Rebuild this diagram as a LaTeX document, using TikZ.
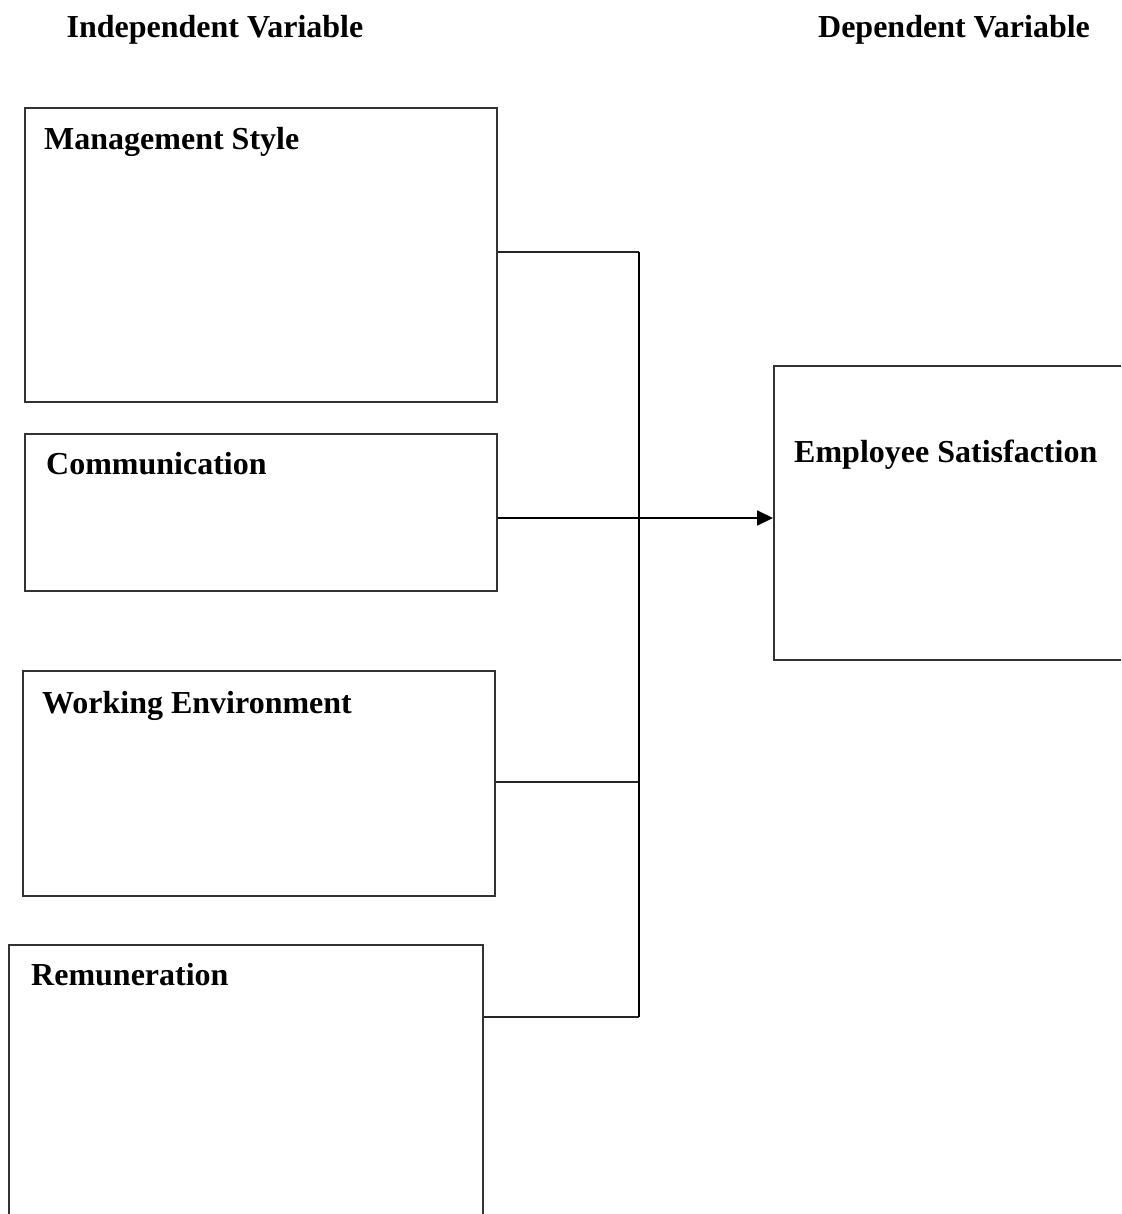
\documentclass[tikz,border=0pt]{standalone}
\usepackage{fontspec}
\setmainfont{Liberation Serif}
\usetikzlibrary{arrows.meta}
\begin{document}
\begin{tikzpicture}[x=1pt,y=1pt,
  box/.style={draw=black!80, line width=1.6pt, rectangle, inner sep=0pt, anchor=north west},
  lbl/.style={inner sep=0pt, anchor=base west, font=\fontsize{32}{38}\selectfont\bfseries},
  head/.style={inner sep=0pt, anchor=base, font=\fontsize{32}{38}\selectfont\bfseries},
  conn/.style={draw=black!85, line width=1.7pt},
  trunk/.style={draw=black, line width=2.4pt}]
\useasboundingbox (0,0) rectangle (1121,-1214);
\clip (0,0) rectangle (1121,-1214);
\node[head] (hi) at (215,-38) {Independent Variable};
\node[head] (hd) at (954,-38) {Dependent Variable};
\node[box, minimum width=472pt, minimum height=294pt] (ms) at (24,-107) {};
\node[box, minimum width=472pt, minimum height=157pt] (cm) at (24,-433) {};
\node[box, minimum width=472pt, minimum height=225pt] (we) at (22,-670) {};
\node[box, minimum width=474pt, minimum height=300pt] (rm) at (8,-944) {};
\node[box, minimum width=360pt, minimum height=294pt] (es) at (773,-365) {};
\node[lbl] (tms) at (44,-150) {Management Style};
\node[lbl] (tcm) at (46,-474) {Communication};
\node[lbl] (twe) at (42,-713) {Working Environment};
\node[lbl] (trm) at (31,-985) {Remuneration};
\node[lbl] (tes) at (794,-462) {Employee Satisfaction};
\coordinate (j1) at (639,-252);
\coordinate (j2) at (639,-518);
\coordinate (j3) at (639,-782);
\coordinate (j4) at (639,-1017);
\draw[conn] (ms.east |- j1) -- (j1);
\draw[conn] (we.east |- j3) -- (j3);
\draw[conn] (rm.east |- j4) -- (j4);
\draw[trunk] (j1) -- (j4);
\draw[conn, draw=black, line width=2pt, -{Triangle[length=16pt,width=15pt]}] (cm.east |- j2) -- (es.west |- j2);
\end{tikzpicture}
\end{document}
